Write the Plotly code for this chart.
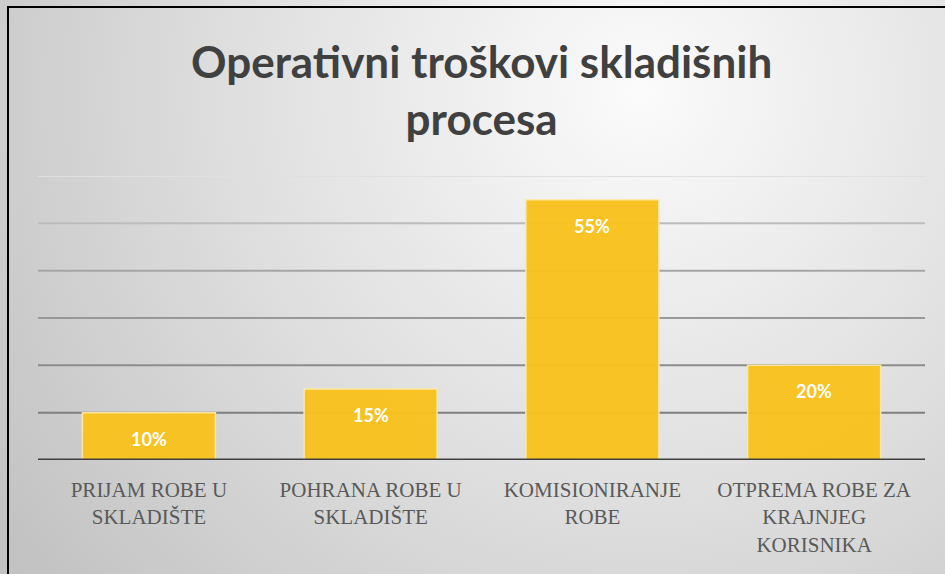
import base64
import plotly.graph_objects as go

# Chart data
categories = [
    "PRIJAM ROBE U<br>SKLADIŠTE",
    "POHRANA ROBE U<br>SKLADIŠTE",
    "KOMISIONIRANJE<br>ROBE",
    "OTPREMA ROBE ZA<br>KRAJNJEG<br>KORISNIKA",
]
shares = [10, 15, 55, 20]
grid_values = [10, 20, 30, 40, 50, 60]
grid_colors = ["#7f7f7f", "#8c8c8c", "#989898", "#a6a6a6", "#bcbcbc", "#e0e0e0"]
title_text = "Operativni troškovi skladišnih<br>procesa"

W, H = 945, 574
ML, MR, MT, MB = 38, 20, 176, 114
PW, PH = W - ML - MR, H - MT - MB

# Soft radial gray background, rendered as an SVG image
svg = f"""<svg xmlns='http://www.w3.org/2000/svg' width='{W}' height='{H}'>
<defs><radialGradient id='g' gradientUnits='userSpaceOnUse' cx='640' cy='90' r='780'>
<stop offset='0' stop-color='#fbfbfb'/><stop offset='0.5' stop-color='#e0e0e0'/>
<stop offset='1' stop-color='#c2c2c2'/></radialGradient></defs>
<rect width='{W}' height='{H}' fill='url(#g)'/></svg>"""
bg_uri = "data:image/svg+xml;base64," + base64.b64encode(svg.encode()).decode()


def px_x(p):
    return (p - ML) / PW


def px_y(p):
    return (H - MB - p) / PH


fig = go.Figure()
fig.add_trace(go.Bar(
    x=categories,
    y=shares,
    width=0.6,
    marker=dict(color="#F9C21D", line=dict(color="#FFE9A6", width=1.5), opacity=0.96),
    hoverinfo="skip",
))

# Value labels inside the top of each bar
for c, v in zip(categories, shares):
    fig.add_annotation(
        x=c, y=v, text=f"{v}%", showarrow=False, yshift=-26,
        font=dict(family="Lato", size=18, color="white", weight="bold"),
    )

# Gridlines, fading out towards the top
for gv, gc in zip(grid_values, grid_colors):
    fig.add_shape(type="line", xref="paper", yref="y", x0=0, x1=1, y0=gv, y1=gv,
                  line=dict(color=gc, width=2), layer="below")

# Category axis baseline
fig.add_shape(type="line", xref="paper", yref="y", x0=0, x1=1, y0=0, y1=0,
              line=dict(color="#3f3f3f", width=3), layer="above")

# Title
fig.add_annotation(
    xref="paper", yref="paper", x=0.5, y=px_y(89), yanchor="middle",
    text=title_text, showarrow=False,
    font=dict(family="Lato", size=44, color="#404040", weight="bold"),
)

# Outer frame
fig.add_shape(type="rect", xref="paper", yref="paper",
              x0=px_x(8), x1=px_x(W + 10), y0=px_y(7), y1=px_y(H + 10),
              line=dict(color="black", width=2), fillcolor="rgba(0,0,0,0)")

fig.add_layout_image(dict(
    source=bg_uri, xref="paper", yref="paper",
    x=px_x(0), y=px_y(0), sizex=W / PW, sizey=H / PH,
    xanchor="left", yanchor="top", sizing="stretch", layer="below",
))

fig.update_layout(
    width=W, height=H,
    margin=dict(l=ML, r=MR, t=MT, b=MB),
    paper_bgcolor="#d8d8d8",
    plot_bgcolor="rgba(0,0,0,0)",
    showlegend=False,
    xaxis=dict(
        showgrid=False, zeroline=False, showline=False, ticks="",
        tickfont=dict(family="'Liberation Serif', 'DejaVu Serif', serif", size=21, color="#595959"),
        ticklabelstandoff=15, fixedrange=True,
    ),
    yaxis=dict(range=[0, 60], showgrid=False, zeroline=False,
               showticklabels=False, fixedrange=True),
)

fig.write_html("out.html")
